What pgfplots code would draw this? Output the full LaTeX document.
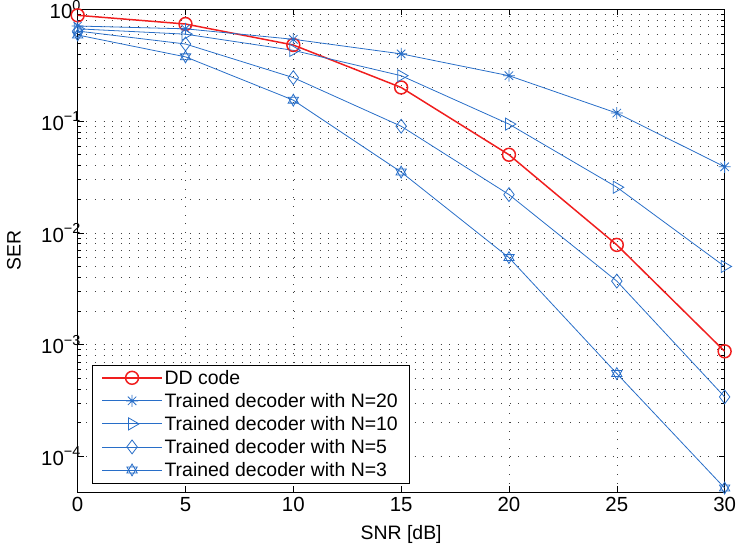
\documentclass[border=0pt]{standalone}
\usepackage{fontspec}
\setmainfont{Liberation Sans}
\usepackage{pgfplots}
\pgfplotsset{compat=1.18}

\definecolor{mred}{RGB}{240,30,30}
\definecolor{mblue}{RGB}{40,110,200}

\newcommand{\tenpow}[1]{10\raisebox{8.5bp}{\fontsize{14.5bp}{14.5bp}\selectfont #1}}

% asterisk with eight spokes, like matlab's '*'
\pgfdeclareplotmark{ast8}{%
  \pgfpathmoveto{\pgfqpoint{-\pgfplotmarksize}{0pt}}\pgfpathlineto{\pgfqpoint{\pgfplotmarksize}{0pt}}%
  \pgfpathmoveto{\pgfqpoint{0pt}{-\pgfplotmarksize}}\pgfpathlineto{\pgfqpoint{0pt}{\pgfplotmarksize}}%
  \pgfpathmoveto{\pgfqpoint{-.707\pgfplotmarksize}{-.707\pgfplotmarksize}}\pgfpathlineto{\pgfqpoint{.707\pgfplotmarksize}{.707\pgfplotmarksize}}%
  \pgfpathmoveto{\pgfqpoint{-.707\pgfplotmarksize}{.707\pgfplotmarksize}}\pgfpathlineto{\pgfqpoint{.707\pgfplotmarksize}{-.707\pgfplotmarksize}}%
  \pgfusepathqstroke}
% hexagram
\pgfdeclareplotmark{hexa}{%
  \pgfpathmoveto{\pgfqpoint{0pt}{\pgfplotmarksize}}%
  \pgfpathlineto{\pgfqpoint{-.866\pgfplotmarksize}{-.5\pgfplotmarksize}}%
  \pgfpathlineto{\pgfqpoint{.866\pgfplotmarksize}{-.5\pgfplotmarksize}}\pgfpathclose
  \pgfpathmoveto{\pgfqpoint{0pt}{-\pgfplotmarksize}}%
  \pgfpathlineto{\pgfqpoint{-.866\pgfplotmarksize}{.5\pgfplotmarksize}}%
  \pgfpathlineto{\pgfqpoint{.866\pgfplotmarksize}{.5\pgfplotmarksize}}\pgfpathclose
  \pgfusepathqstroke}

\begin{document}
\begin{tikzpicture}
\begin{axis}[
    width=649bp, height=484bp, scale only axis,
    font=\fontsize{19.5bp}{23bp}\selectfont,
    tick label style={font=\fontsize{20.5bp}{24bp}\selectfont},
    /pgf/number format/assume math mode=true,
    xmin=0, xmax=30, ymode=log, ymin=4.8e-5, ymax=1,
    xtick={0,5,...,30},
    ytick={1e-4,1e-3,1e-2,1e-1,1},
    yticklabels={\tenpow{−4},\tenpow{−3},\tenpow{−2},\tenpow{−1},\tenpow{0}},
    yticklabel style={inner xsep=1pt, inner ysep=0pt, xshift=4bp},
    xticklabel style={inner ysep=5bp, inner xsep=0pt},
    tick align=inside, tick pos=both,
    major tick length=6pt, minor tick length=3.5pt,
    every tick/.style={black, line width=0.6pt},
    axis line style={line width=0.8pt},
    xmajorgrids, ymajorgrids, yminorgrids,
    major grid style={black!75, line width=0.6pt, dash pattern=on 0.7pt off 8pt},
    minor grid style={black!75, line width=0.6pt, dash pattern=on 0.7pt off 8pt},
    xlabel={SNR [dB]}, ylabel={SER},
    xlabel style={yshift=-7bp, inner ysep=2bp},
    ylabel style={at={(axis description cs:-0.0986,0.5)}, anchor=center, inner xsep=2bp, inner ysep=7bp},
    legend style={at={(0.0227,0.0186)}, anchor=south west, draw=black,
      font=\fontsize{19.5bp}{23bp}\selectfont, row sep=3.5bp, inner xsep=9bp, inner ysep=3pt},
    legend cell align=left,
    legend image code/.code={%
      \draw[mark repeat=2,mark phase=2] plot coordinates {(0pt,0pt) (30pt,0pt) (60pt,0pt)};},
]
\addplot[mred, line width=1.5pt, mark=o, mark size=6.5pt] coordinates {
  (0,0.885) (5,0.74) (10,0.48) (15,0.20) (20,0.05) (25,0.0078) (30,8.7e-4)};
\addlegendentry{DD code}
\addplot[mblue, line width=0.8pt, mark=ast8, mark size=6pt] coordinates {
  (0,0.71) (5,0.67) (10,0.54) (15,0.40) (20,0.255) (25,0.118) (30,0.039)};
\addlegendentry{Trained decoder with N=20}
\addplot[mblue, line width=0.8pt, mark=triangle, mark size=7pt, mark options={rotate=-90}] coordinates {
  (0,0.67) (5,0.60) (10,0.43) (15,0.255) (20,0.094) (25,0.0256) (30,0.005)};
\addlegendentry{Trained decoder with N=10}
\addplot[mblue, line width=0.8pt, mark=diamond, mark size=7pt] coordinates {
  (0,0.64) (5,0.49) (10,0.245) (15,0.09) (20,0.022) (25,0.0037) (30,3.4e-4)};
\addlegendentry{Trained decoder with N=5}
\addplot[mblue, line width=0.8pt, mark=hexa, mark size=6pt] coordinates {
  (0,0.59) (5,0.376) (10,0.154) (15,0.035) (20,0.006) (25,5.5e-4) (30,5.2e-5)};
\addlegendentry{Trained decoder with N=3}
\end{axis}
\end{tikzpicture}
\end{document}
